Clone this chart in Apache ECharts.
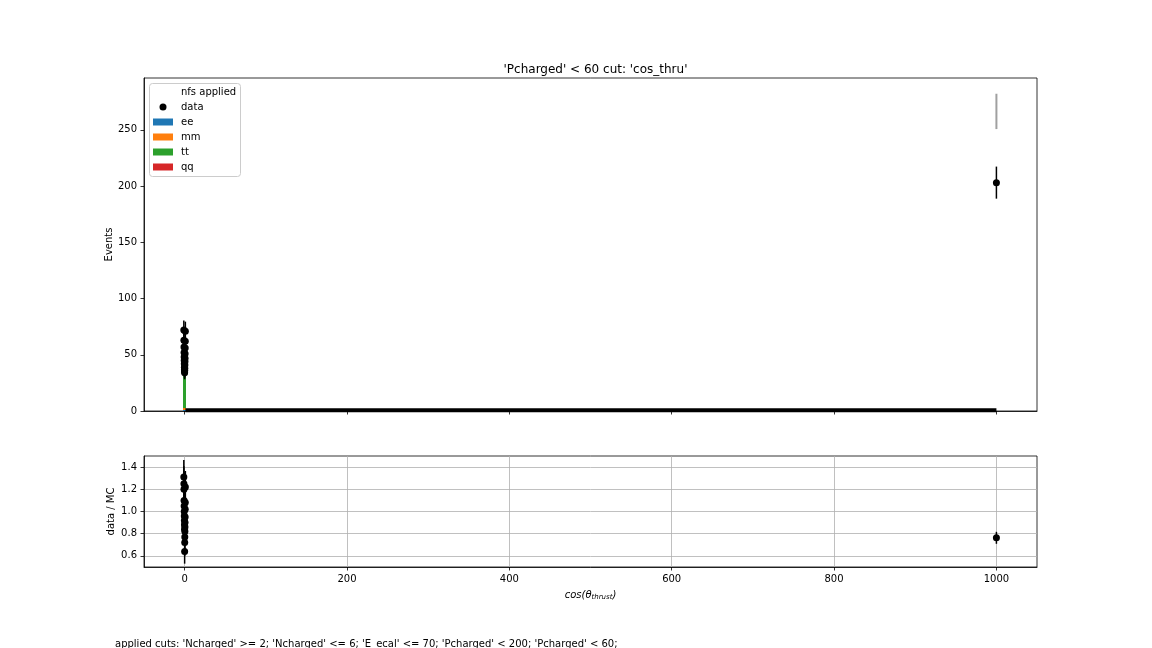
<!DOCTYPE html>
<html>
<head>
<meta charset="utf-8">
<script src="https://cdn.jsdelivr.net/npm/echarts@6/dist/echarts.min.js"></script>
<style>
html,body{margin:0;padding:0;background:#fff;}
#chart{width:1152px;height:648px;}
</style>
</head>
<body>
<div id="chart"></div>
<script>
// ---- data ----
const binCenters = [-0.95,-0.85,-0.75,-0.65,-0.55,-0.45,-0.35,-0.25,-0.15,-0.05,0.05,0.15,0.25,0.35,0.45,0.55,0.65,0.75,0.85,0.95];
const overflowX = 1000;
const dataCounts = [72,63,57,52,48,45,42,39,37,35,34,36,38,41,44,47,51,56,62,71];
const dataErr = [8.49,7.94,7.55,7.21,6.93,6.71,6.48,6.24,6.08,5.92,5.83,6.00,6.16,6.40,6.63,6.86,7.14,7.48,7.87,8.43];
const dataOverflow = 203;
const dataOverflowErr = 14.25;
const eeCounts = [1,1,1,1,1,1,1,1,1,1,1,1,1,1,1,1,1,1,1,1];
const mmCounts = [2,2,2,2,2,2,2,2,2,2,2,2,2,2,2,2,2,2,2,2];
const ttCounts = [42,39,37,37,36,35,34,33,33,33,42,39,39,39,40,41,42,43,45,45];
const qqCounts = [9,6.4,7.5,7.3,6.7,7,6.8,6.4,6,5.7,8,8,7.4,8,8.2,8.2,8.7,8.9,9.4,10.2];
const mcOverflow = 266.3;
const mcOverflowErr = 15.7;
const ratioValues = [1.31,1.25,1.20,1.10,1.05,1.00,0.96,0.92,0.88,0.84,0.64,0.72,0.77,0.82,0.86,0.90,0.95,1.02,1.08,1.22];
const ratioErr = [0.154,0.157,0.159,0.153,0.152,0.149,0.148,0.147,0.145,0.142,0.110,0.120,0.125,0.128,0.130,0.131,0.133,0.136,0.137,0.145];
const ratioOverflow = 0.763;
const ratioOverflowErr = 0.054;
const zeroLineX = [1, 1000];
const xTicks = [0,200,400,600,800,1000];
const yTicksTop = [0,50,100,150,200,250];
const yTicksRatio = [0.6,0.8,1.0,1.2,1.4];
const footerText = "applied cuts: 'Ncharged' >= 2; 'Ncharged' <= 6; 'E_ecal' <= 70; 'Pcharged' < 200; 'Pcharged' < 60;";

// ---- build ----
const FONT = 'DejaVu Sans';
const stackDefs = [
  {name:'ee', arr:eeCounts, color:'#1f77b4'},
  {name:'mm', arr:mmCounts, color:'#ff7f0e'},
  {name:'tt', arr:ttCounts, color:'#2ca02c'},
  {name:'qq', arr:qqCounts, color:'#d62728'}
];
const stackSeries = stackDefs.map((d, si) => {
  const items = binCenters.map((x, i) => {
    let lo = 0;
    for (let k = 0; k < si; k++) lo += stackDefs[k].arr[i];
    return [x, lo, lo + d.arr[i]];
  });
  return {
    name: d.name, type: 'custom', xAxisIndex: 0, yAxisIndex: 0, z: 2,
    itemStyle: {color: d.color},
    data: items,
    renderItem: function (params, api) {
      const x = api.value(0);
      const p0 = api.coord([x - 0.05, api.value(1)]);
      const p1 = api.coord([x + 0.05, api.value(2)]);
      const cx = Math.round((p0[0] + p1[0]) / 2 - 0.5);
      return {type: 'rect', shape: {x: cx, y: p1[1], width: 1, height: p0[1] - p1[1]},
        style: {fill: d.color}};
    }
  };
});

function errRender(color, width) {
  return function (params, api) {
    const x = api.value(0);
    const a = api.coord([x, api.value(1)]);
    const b = api.coord([x, api.value(2)]);
    return {type: 'line', shape: {x1: a[0], y1: a[1], x2: b[0], y2: b[1]}, style: {stroke: color, lineWidth: width}};
  };
}

const dataPts = binCenters.map((x, i) => [x, dataCounts[i]]).concat([[overflowX, dataOverflow]]);
const dataErrItems = binCenters.map((x, i) => [x, dataCounts[i] - dataErr[i], dataCounts[i] + dataErr[i]])
  .concat([[overflowX, dataOverflow - dataOverflowErr, dataOverflow + dataOverflowErr]]);
const ratioPts = binCenters.map((x, i) => [x, ratioValues[i]]).concat([[overflowX, ratioOverflow]]);
const ratioErrItems = binCenters.map((x, i) => [x, ratioValues[i] - ratioErr[i], ratioValues[i] + ratioErr[i]])
  .concat([[overflowX, ratioOverflow - ratioOverflowErr, ratioOverflow + ratioOverflowErr]]);
const bandItems = [[overflowX, mcOverflow - mcOverflowErr, mcOverflow + mcOverflowErr]];

const labelStyle = {color: '#000', fontSize: 10, fontFamily: FONT};
function xAxisCfg(idx, showLabels) {
  return {
    type: 'value', gridIndex: idx, min: -50, max: 1050,
    axisLine: {show: true, onZero: false, lineStyle: {color: '#000', width: 0.8}},
    axisTick: {show: true, customValues: xTicks, length: 3.5, lineStyle: {color: '#000', width: 0.8}},
    axisLabel: {show: showLabels, customValues: xTicks, margin: 7, ...labelStyle, formatter: v => String(v)},
    splitLine: {show: idx === 1, lineStyle: {color: '#b0b0b0', width: 0.8}},
    name: showLabels ? '{i|cos(θ}{s|thrust}{i|)}' : '',
    nameLocation: 'middle', nameGap: 22,
    nameTextStyle: {rich: {
      i: {fontStyle: 'italic', fontSize: 10, fontFamily: FONT, color: '#000'},
      s: {fontStyle: 'italic', fontSize: 7, fontFamily: FONT, color: '#000', verticalAlign: 'bottom', padding: [5, 0, 0, 0]}
    }}
  };
}

const option = {
  animation: false,
  backgroundColor: '#fff',
  title: {
    text: "'Pcharged' < 60 cut: 'cos_thru'",
    left: 590.5, top: 59, textAlign: 'center',
    textStyle: {fontSize: 12, fontWeight: 'normal', fontFamily: FONT, color: '#000'}
  },
  legend: {
    orient: 'vertical', left: 153, top: 101, padding: 0, z: 20,
    itemWidth: 20, itemHeight: 7, itemGap: 3,
    selectedMode: false,
    textStyle: {fontSize: 10, fontFamily: FONT, color: '#000', lineHeight: 12, padding: [0, 0, 0, 3]},
    data: [
      {name: 'data', icon: 'circle'},
      {name: 'ee', icon: 'rect'},
      {name: 'mm', icon: 'rect'},
      {name: 'tt', icon: 'rect'},
      {name: 'qq', icon: 'rect'}
    ]
  },
  grid: [
    {left: 144, top: 78, width: 893, height: 333, show: true, borderColor: '#000', borderWidth: 0.8, backgroundColor: 'transparent'},
    {left: 144, top: 456, width: 893, height: 111, show: true, borderColor: '#000', borderWidth: 0.8, backgroundColor: 'transparent'}
  ],
  xAxis: [xAxisCfg(0, false), xAxisCfg(1, true)],
  yAxis: [
    {type: 'value', gridIndex: 0, min: 0, max: 296,
      axisLine: {show: true, onZero: false, lineStyle: {color: '#000', width: 0.8}},
      axisTick: {show: true, customValues: yTicksTop, length: 3.5, lineStyle: {color: '#000', width: 0.8}},
      axisLabel: {customValues: yTicksTop, margin: 7, ...labelStyle},
      splitLine: {show: false},
      name: 'Events', nameLocation: 'middle', nameGap: 30, nameMoveOverlap: false,
      nameTextStyle: {fontSize: 10, fontFamily: FONT, color: '#000'}},
    {type: 'value', gridIndex: 1, min: 0.5, max: 1.5,
      axisLine: {show: true, onZero: false, lineStyle: {color: '#000', width: 0.8}},
      axisTick: {show: true, customValues: yTicksRatio, length: 3.5, lineStyle: {color: '#000', width: 0.8}},
      axisLabel: {customValues: yTicksRatio, margin: 7, ...labelStyle, formatter: v => v.toFixed(1)},
      splitLine: {show: true, lineStyle: {color: '#b0b0b0', width: 0.8}},
      name: 'data / MC', nameLocation: 'middle', nameGap: 28, nameMoveOverlap: false,
      nameTextStyle: {fontSize: 10, fontFamily: FONT, color: '#000'}}
  ],
  series: stackSeries.concat([
    {type: 'custom', xAxisIndex: 0, yAxisIndex: 0, z: 3, data: bandItems, silent: true,
      renderItem: function (params, api) {
        const x = api.value(0);
        const a = api.coord([x, api.value(1)]);
        const b = api.coord([x, api.value(2)]);
        return {type: 'rect', shape: {x: a[0] - 1, y: b[1], width: 2, height: a[1] - b[1]}, style: {fill: '#a0a0a0'}};
      }},
    {type: 'line', xAxisIndex: 0, yAxisIndex: 0, z: 4, clip: false, symbol: 'none', silent: true,
      data: zeroLineX.map(x => [x, 0.6]), lineStyle: {color: '#000', width: 4}},
    {type: 'custom', xAxisIndex: 0, yAxisIndex: 0, z: 5, clip: true, data: dataErrItems, renderItem: errRender('#000', 1.5)},
    {name: 'data', type: 'scatter', xAxisIndex: 0, yAxisIndex: 0, z: 6, symbol: 'circle', symbolSize: 7,
      itemStyle: {color: '#000', opacity: 1}, data: dataPts},
    {type: 'custom', xAxisIndex: 1, yAxisIndex: 1, z: 5, clip: true, data: ratioErrItems, renderItem: errRender('#000', 1.5)},
    {name: 'ratio', type: 'scatter', xAxisIndex: 1, yAxisIndex: 1, z: 6, symbol: 'circle', symbolSize: 7,
      itemStyle: {color: '#000', opacity: 1}, data: ratioPts, clip: true}
  ]),
  graphic: [
    {type: 'rect', left: 149, top: 83, z: 1, shape: {width: 91, height: 93, r: 3},
      style: {fill: 'rgba(255,255,255,0.8)', stroke: '#cccccc', lineWidth: 1}, silent: true},
    {type: 'text', left: 181, top: 87, z: 21, silent: true,
      style: {text: 'nfs applied', fontSize: 10, fontFamily: FONT, fill: '#000'}},
    {type: 'text', left: 115, top: 639, silent: true,
      style: {text: footerText, fontSize: 10, fontFamily: FONT, fill: '#000'}}
  ]
};
const chart = echarts.init(document.getElementById('chart'), null, {renderer: 'canvas'});
chart.setOption(option);
</script>
</body>
</html>
